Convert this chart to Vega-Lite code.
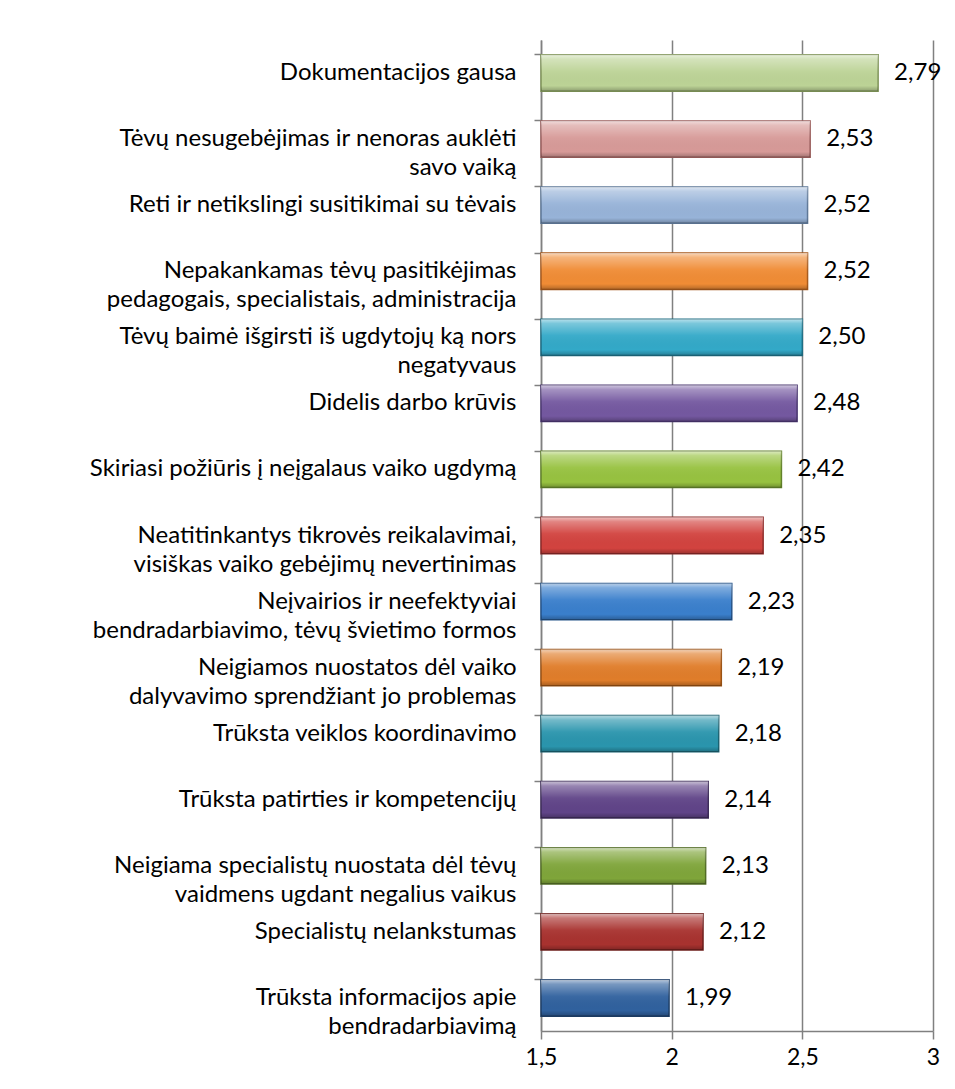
{
  "$schema": "https://vega.github.io/schema/vega-lite/v6.json",
  "width": 392,
  "height": 991,
  "autosize": {"type": "none"},
  "padding": {"left": 541, "top": 40, "right": 22, "bottom": 58},
  "background": "white",
  "config": {
    "view": {"stroke": null},
    "font": "Lato",
    "locale": {"number": {"decimal": ",", "thousands": " ", "grouping": [3], "currency": ["", " €"]}}
  },
  "data": {
    "values": [
      {"label": "Dokumentacijos gausa", "value": 2.79},
      {"label": "Tėvų nesugebėjimas ir nenoras auklėti|savo vaiką", "value": 2.53},
      {"label": "Reti ir netikslingi susitikimai su tėvais", "value": 2.52},
      {"label": "Nepakankamas tėvų pasitikėjimas|pedagogais, specialistais, administracija", "value": 2.52},
      {"label": "Tėvų baimė išgirsti iš ugdytojų ką nors|negatyvaus", "value": 2.50},
      {"label": "Didelis darbo krūvis", "value": 2.48},
      {"label": "Skiriasi požiūris į neįgalaus vaiko ugdymą", "value": 2.42},
      {"label": "Neatitinkantys tikrovės reikalavimai,|visiškas vaiko gebėjimų nevertinimas", "value": 2.35},
      {"label": "Neįvairios ir neefektyviai|bendradarbiavimo, tėvų švietimo formos", "value": 2.23},
      {"label": "Neigiamos nuostatos dėl vaiko|dalyvavimo sprendžiant jo problemas", "value": 2.19},
      {"label": "Trūksta veiklos koordinavimo", "value": 2.18},
      {"label": "Trūksta patirties ir kompetencijų", "value": 2.14},
      {"label": "Neigiama specialistų nuostata dėl tėvų|vaidmens ugdant negalius vaikus", "value": 2.13},
      {"label": "Specialistų nelankstumas", "value": 2.12},
      {"label": "Trūksta informacijos apie|bendradarbiavimą", "value": 1.99}
    ]
  },
  "encoding": {
    "y": {
      "field": "label",
      "type": "nominal",
      "sort": null,
      "scale": {"paddingInner": 0.45, "paddingOuter": 0.225},
      "axis": {
        "title": null,
        "labelExpr": "split(datum.value, '|')",
        "labelFontSize": 24,
        "labelLineHeight": 29,
        "labelColor": "#000000",
        "labelPadding": 18,
        "labelLimit": 600,
        "tickSize": 7,
        "tickWidth": 1.5,
        "tickColor": "#808080",
        "domainColor": "#808080",
        "domainWidth": 1.5,
        "bandPosition": 0
      }
    },
    "x": {
      "field": "value",
      "type": "quantitative",
      "scale": {"domain": [1.5, 3], "zero": false, "nice": false},
      "axis": {
        "title": null,
        "values": [1.5, 2, 2.5, 3],
        "format": ".1~f",
        "grid": true,
        "gridColor": "#808080",
        "gridWidth": 1.5,
        "domainColor": "#808080",
        "domainWidth": 1.5,
        "tickColor": "#808080",
        "tickWidth": 1.5,
        "tickSize": 8,
        "labelFontSize": 23,
        "labelColor": "#000000",
        "labelPadding": 7,
        "labelFlush": false
      }
    }
  },
  "layer": [
    {
      "mark": {"type": "bar", "strokeWidth": 1.5},
      "encoding": {
        "x2": {"datum": 1.5},
        "color": {
          "field": "label",
          "type": "nominal",
          "legend": null,
          "scale": {
            "domain": [
              "Dokumentacijos gausa",
              "Tėvų nesugebėjimas ir nenoras auklėti|savo vaiką",
              "Reti ir netikslingi susitikimai su tėvais",
              "Nepakankamas tėvų pasitikėjimas|pedagogais, specialistais, administracija",
              "Tėvų baimė išgirsti iš ugdytojų ką nors|negatyvaus",
              "Didelis darbo krūvis",
              "Skiriasi požiūris į neįgalaus vaiko ugdymą",
              "Neatitinkantys tikrovės reikalavimai,|visiškas vaiko gebėjimų nevertinimas",
              "Neįvairios ir neefektyviai|bendradarbiavimo, tėvų švietimo formos",
              "Neigiamos nuostatos dėl vaiko|dalyvavimo sprendžiant jo problemas",
              "Trūksta veiklos koordinavimo",
              "Trūksta patirties ir kompetencijų",
              "Neigiama specialistų nuostata dėl tėvų|vaidmens ugdant negalius vaikus",
              "Specialistų nelankstumas",
              "Trūksta informacijos apie|bendradarbiavimą"
            ],
            "range": ["#bcd396", "#d79a98", "#97b3d8", "#f08c35", "#33a9c8", "#7458a0", "#97c240", "#d2433f", "#3a7fcc", "#e07d2a", "#2a95ad", "#604488", "#7fa53a", "#a8322f", "#30619e"]
          }
        },
        "stroke": {
          "field": "label",
          "type": "nominal",
          "legend": null,
          "scale": {
            "domain": [
              "Dokumentacijos gausa",
              "Tėvų nesugebėjimas ir nenoras auklėti|savo vaiką",
              "Reti ir netikslingi susitikimai su tėvais",
              "Nepakankamas tėvų pasitikėjimas|pedagogais, specialistais, administracija",
              "Tėvų baimė išgirsti iš ugdytojų ką nors|negatyvaus",
              "Didelis darbo krūvis",
              "Skiriasi požiūris į neįgalaus vaiko ugdymą",
              "Neatitinkantys tikrovės reikalavimai,|visiškas vaiko gebėjimų nevertinimas",
              "Neįvairios ir neefektyviai|bendradarbiavimo, tėvų švietimo formos",
              "Neigiamos nuostatos dėl vaiko|dalyvavimo sprendžiant jo problemas",
              "Trūksta veiklos koordinavimo",
              "Trūksta patirties ir kompetencijų",
              "Neigiama specialistų nuostata dėl tėvų|vaidmens ugdant negalius vaikus",
              "Specialistų nelankstumas",
              "Trūksta informacijos apie|bendradarbiavimą"
            ],
            "range": ["#7f9458", "#9a5e5c", "#5e7898", "#a85a1c", "#1e6e84", "#4a3670", "#62822a", "#8e2a28", "#25548a", "#9a5214", "#1a6272", "#3e2c5a", "#526c24", "#6e1f1d", "#1e3f68"]
          }
        }
      }
    },
    {
      "mark": {
        "type": "bar",
        "fill": {
          "gradient": "linear",
          "x1": 0, "y1": 0, "x2": 0, "y2": 1,
          "stops": [
            {"offset": 0, "color": "rgba(255,255,255,0.65)"},
            {"offset": 0.12, "color": "rgba(255,255,255,0.35)"},
            {"offset": 0.45, "color": "rgba(255,255,255,0.05)"},
            {"offset": 0.85, "color": "rgba(0,0,0,0.0)"},
            {"offset": 1, "color": "rgba(0,0,0,0.25)"}
          ]
        },
        "stroke": null
      },
      "encoding": {
        "x2": {"datum": 1.5}
      }
    },
    {
      "mark": {"type": "text", "align": "left", "baseline": "middle", "dx": 16, "fontSize": 24, "color": "#000000"},
      "encoding": {
        "text": {"field": "value", "type": "quantitative", "format": ".2f"}
      }
    }
  ]
}
